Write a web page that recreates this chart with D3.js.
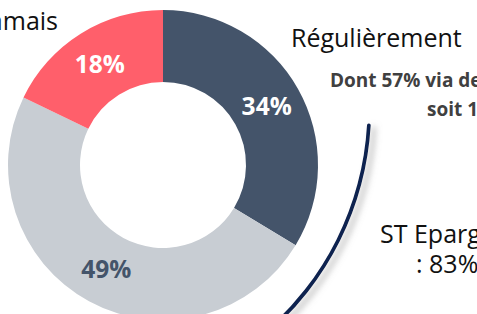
<!DOCTYPE html>
<meta charset="utf-8">
<html>
<head>
<title>Epargne</title>
<style>
html, body {
  margin: 0;
  padding: 0;
  background: #fff;
  overflow: hidden;
}
svg text {
  font-family: "Open Sans", sans-serif;
}
</style>
</head>
<body>
<div id="my_dataviz"></div>
<script src="https://d3js.org/d3.v7.min.js"></script>
<script>
// data
var categories = ["Régulièrement", "De temps en temps", "Jamais"]
var values = [34, 49, 18]
var labels = ["34%", "49%", "18%"]
var colors = ["#44546A", "#C8CDD3", "#FF5F6B"]
var labelColors = ["#fff", "#44546A", "#fff"]

var width = 477, height = 314
var cx = 163, cy = 165
var outerR = 155, innerR = 83

var svg = d3.select("#my_dataviz")
  .append("svg")
    .attr("width", width)
    .attr("height", height)

// soft shadow for the bracket line
var defs = svg.append("defs")
var f = defs.append("filter").attr("id", "shadow")
  .attr("x", "-50%").attr("y", "-50%").attr("width", "200%").attr("height", "200%")
f.append("feDropShadow")
  .attr("dx", 5).attr("dy", 3)
  .attr("stdDeviation", 3)
  .attr("flood-color", "#888")
  .attr("flood-opacity", 0.6)

var pie = d3.pie().sort(null).value(function(d) { return d; })
var arc = d3.arc().innerRadius(innerR).outerRadius(outerR)

var g = svg.append("g")
  .attr("transform", "translate(" + cx + "," + cy + ")")

var slices = pie(values)

g.selectAll("path.slice")
  .data(slices)
  .enter()
  .append("path")
    .attr("class", "slice")
    .attr("d", arc)
    .style("fill", function(d, i) { return colors[i]; })

g.selectAll("text.pct")
  .data(slices)
  .enter()
  .append("text")
    .attr("class", "pct")
    .attr("transform", function(d) { return "translate(" + arc.centroid(d) + ")"; })
    .attr("dy", "0.35em")
    .attr("text-anchor", "middle")
    .style("font-weight", "bold")
    .style("font-size", "24.5px")
    .style("fill", function(d, i) { return labelColors[i]; })
    .text(function(d, i) { return labels[i]; })

// curved bracket next to the "regulierement" slice
var bracket = d3.arc()
  .innerRadius(294.5)
  .outerRadius(298.2)
  .startAngle(93 * Math.PI / 180)
  .endAngle(140 * Math.PI / 180)
  .cornerRadius(1.8)

svg.append("path")
  .attr("transform", "translate(73,108)")
  .attr("d", bracket)
  .style("fill", "#0B2350")
  .attr("filter", "url(#shadow)")

// text blocks
svg.append("text")
  .attr("x", 58).attr("y", 30)
  .attr("text-anchor", "end")
  .style("font-size", "25px")
  .style("fill", "#111")
  .text(categories[2])

svg.append("text")
  .attr("x", 291).attr("y", 47)
  .style("font-size", "25px")
  .style("fill", "#111")
  .text(categories[0])

svg.append("text")
  .attr("x", 330).attr("y", 87)
  .style("font-size", "19px")
  .style("font-weight", "bold")
  .style("fill", "#404040")
  .text("Dont 57% via des virements")

svg.append("text")
  .attr("x", 427).attr("y", 116)
  .style("font-size", "19px")
  .style("font-weight", "bold")
  .style("fill", "#404040")
  .text("soit 19%")

svg.append("text")
  .attr("x", 380).attr("y", 243)
  .style("font-size", "25px")
  .style("fill", "#111")
  .text("ST Epargnants")

svg.append("text")
  .attr("x", 416).attr("y", 273)
  .style("font-size", "25px")
  .style("fill", "#111")
  .text(": 83%")
</script>
</body>
</html>
